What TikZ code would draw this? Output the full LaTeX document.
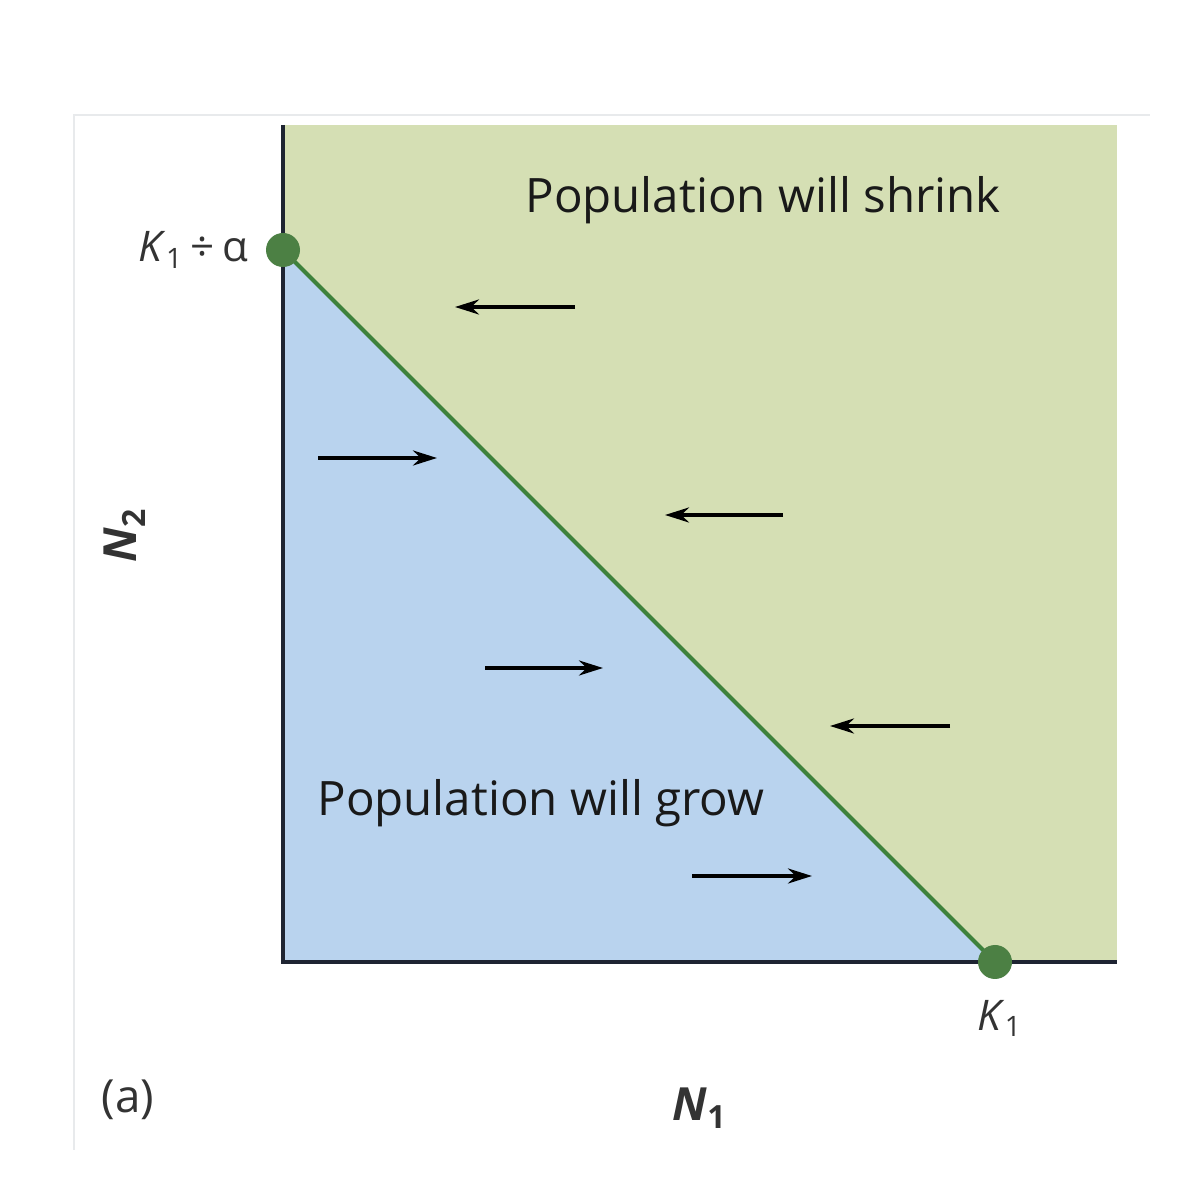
\documentclass[tikz,border=0pt]{standalone}
\usepackage{fontspec}
\setmainfont{Open Sans}
\usetikzlibrary{arrows.meta}

\definecolor{shrinkgreen}{RGB}{213,223,180}
\definecolor{growblue}{RGB}{185,211,238}
\definecolor{isoline}{RGB}{62,130,60}
\definecolor{eqdot}{RGB}{76,128,68}
\definecolor{axisdark}{RGB}{30,36,50}
\definecolor{framegray}{RGB}{232,234,236}

\tikzset{
	axis/.style={draw=axisdark, line width=1.2pt},
	isocline/.style={draw=isoline, line width=1.2pt},
	eqpoint/.style={circle, fill=eqdot, inner sep=0pt, minimum size=0.34cm},
	region/.style={font=\fontsize{13.5}{15}\selectfont, text=black!90},
	tick/.style={font=\fontsize{12}{14}\selectfont, text=black!80},
	flow/.style={line width=1pt, -{Stealth[length=0.24cm, width=0.15cm]}}
}

\begin{document}
\begin{tikzpicture}
	\useasboundingbox (0,0) rectangle (11.88,12);
	
	%CADRE
	\draw[framegray, line width=0.6pt] (0.74,0.5) -- (0.74,10.85) -- (11.5,10.85);
	
	%ZONES
	\fill[shrinkgreen] (2.83,2.38) rectangle (11.17,10.75);
	\coordinate (O) at (2.83,2.38);
	\coordinate (A) at (2.83,9.50);
	\coordinate (B) at (9.95,2.38);
	\fill[growblue] (O) -- (A) -- (B) -- cycle;
	
	% isocline
	\draw[isocline] (A) -- (B);
	
	%AXES
	\draw[axis] (2.83,10.75) -- (O) -- (11.17,2.38);
	
	%POINTS
	\node[eqpoint] (Ka) at (A) {};
	\node[eqpoint] (K) at (B) {};
	\node[tick, anchor=east] (Kalabel) at ([xshift=-0.05cm]Ka.west) {\textit{K}\textsubscript{1}\,÷\,α};
	\node[tick, anchor=north] (Klabel) at (10.0,2.12) {\textit{K}\textsubscript{1}};
	
	%FLECHES
	\foreach \xa/\xb/\y in {5.75/4.55/8.93, 3.18/4.37/7.42, 7.83/6.65/6.85, 4.85/6.03/5.32, 9.50/8.30/4.74, 6.92/8.12/3.24}
		\draw[flow] (\xa,\y) -- (\xb,\y);
	
	%TEXTES
	\node[region] (shrink) at (7.63,10.0) {Population will shrink};
	\node[region] (grow) at (5.41,3.97) {Population will grow};
	\node[tick, font=\fontsize{13}{15}\selectfont\bfseries, rotate=90] (N2) at (1.25,6.65) {\textit{N}\textsubscript{2}};
	\node[tick, font=\fontsize{13}{15}\selectfont\bfseries] (N1) at (7.0,0.92) {\textit{N}\textsubscript{1}};
	\node[tick, font=\fontsize{13}{15}\selectfont] (a) at (1.28,1.0) {(a)};
\end{tikzpicture}
\end{document}
